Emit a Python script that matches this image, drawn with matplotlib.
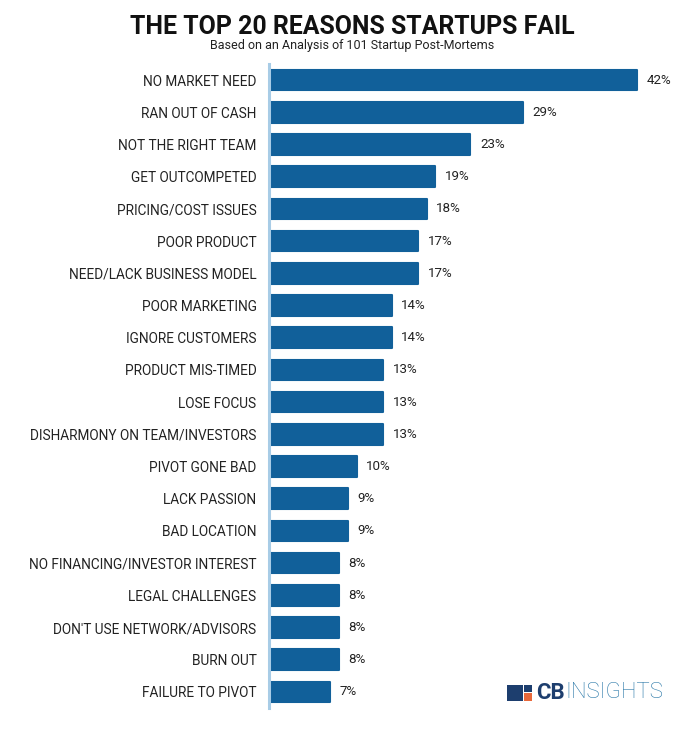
import matplotlib
matplotlib.use("Agg")
import matplotlib.pyplot as plt
from matplotlib.patches import Rectangle

reasons = ["NO MARKET NEED", "RAN OUT OF CASH", "NOT THE RIGHT TEAM", "GET OUTCOMPETED",
           "PRICING/COST ISSUES", "POOR PRODUCT", "NEED/LACK BUSINESS MODEL", "POOR MARKETING",
           "IGNORE CUSTOMERS", "PRODUCT MIS-TIMED", "LOSE FOCUS", "DISHARMONY ON TEAM/INVESTORS",
           "PIVOT GONE BAD", "LACK PASSION", "BAD LOCATION", "NO FINANCING/INVESTOR INTEREST",
           "LEGAL CHALLENGES", "DON'T USE NETWORK/ADVISORS", "BURN OUT", "FAILURE TO PIVOT"]
percent = [42, 29, 23, 19, 18, 17, 17, 14, 14, 13, 13, 13, 10, 9, 9, 8, 8, 8, 8, 7]

W, H = 694, 736
fig = plt.figure(figsize=(W / 100, H / 100), dpi=100)
fig.patch.set_facecolor("white")

left, right = 269, 660
top, bottom = 64, 708
ax = fig.add_axes([left / W, 1 - bottom / H, (right - left) / W, (bottom - top) / H])

bar_color = "#11609a"
pos = list(range(len(reasons)))
bars = ax.barh(pos, percent, height=0.64, color=bar_color, edgecolor=bar_color,
               linewidth=1.5, joinstyle="round", zorder=2)
ax.set_xlim(0, (right - left) / 8.75)
ax.set_ylim(len(reasons) - 0.5, -0.5)
ax.set_yticks(pos)
ax.set_yticklabels(reasons, fontfamily="Roboto", fontsize=9.8, color="#222222")
ax.tick_params(axis="y", length=0, pad=9)
ax.set_xticks([])
for s in ["top", "right", "bottom"]:
    ax.spines[s].set_visible(False)
ax.spines["left"].set_color("#a8cce6")
ax.spines["left"].set_linewidth(2.2)
ax.spines["left"].set_zorder(3)

for b, v in zip(bars, percent):
    ax.annotate(f"{v}%", xy=(b.get_width(), b.get_y() + b.get_height() / 2),
                xytext=(7, 0), textcoords="offset points", va="center", ha="left",
                fontfamily="Roboto", fontsize=9.6, color="#222222")

fig.text(352 / W, 1 - 27 / H, "THE TOP 20 REASONS STARTUPS FAIL", ha="center", va="center",
         fontfamily="Roboto", fontweight="bold", fontsize=17.9, color="#111111")
fig.text(352 / W, 1 - 46 / H, "Based on an Analysis of 101 Startup Post-Mortems", ha="center",
         va="center", fontfamily="Roboto", fontsize=9, color="#222222")

# CB Insights logo
fig.patches.append(Rectangle((507 / W, 1 - 701 / H), 16 / W, 16 / H, transform=fig.transFigure,
                             facecolor="#1d3e6e", edgecolor="none"))
fig.patches.append(Rectangle((524 / W, 1 - 701 / H), 8 / W, 8 / H, transform=fig.transFigure,
                             facecolor="#e8683a", edgecolor="none"))
fig.patches.append(Rectangle((524 / W, 1 - 692 / H), 8 / W, 7 / H, transform=fig.transFigure,
                             facecolor="#1d3e6e", edgecolor="none"))
t1 = fig.text(536 / W, 1 - 693 / H, "CB", ha="left", va="center", fontfamily="Roboto",
              fontweight="bold", fontsize=16, color="#1d3e6e")
fig.canvas.draw()
ext = t1.get_window_extent()
fig.text(ext.x1 / W + 1 / W, 1 - 693 / H, "INSIGHTS", ha="left", va="center", fontfamily="Roboto",
         fontweight="light", fontsize=16, color="#2a78a8")

fig.savefig("out.png", dpi=100, facecolor="white")
